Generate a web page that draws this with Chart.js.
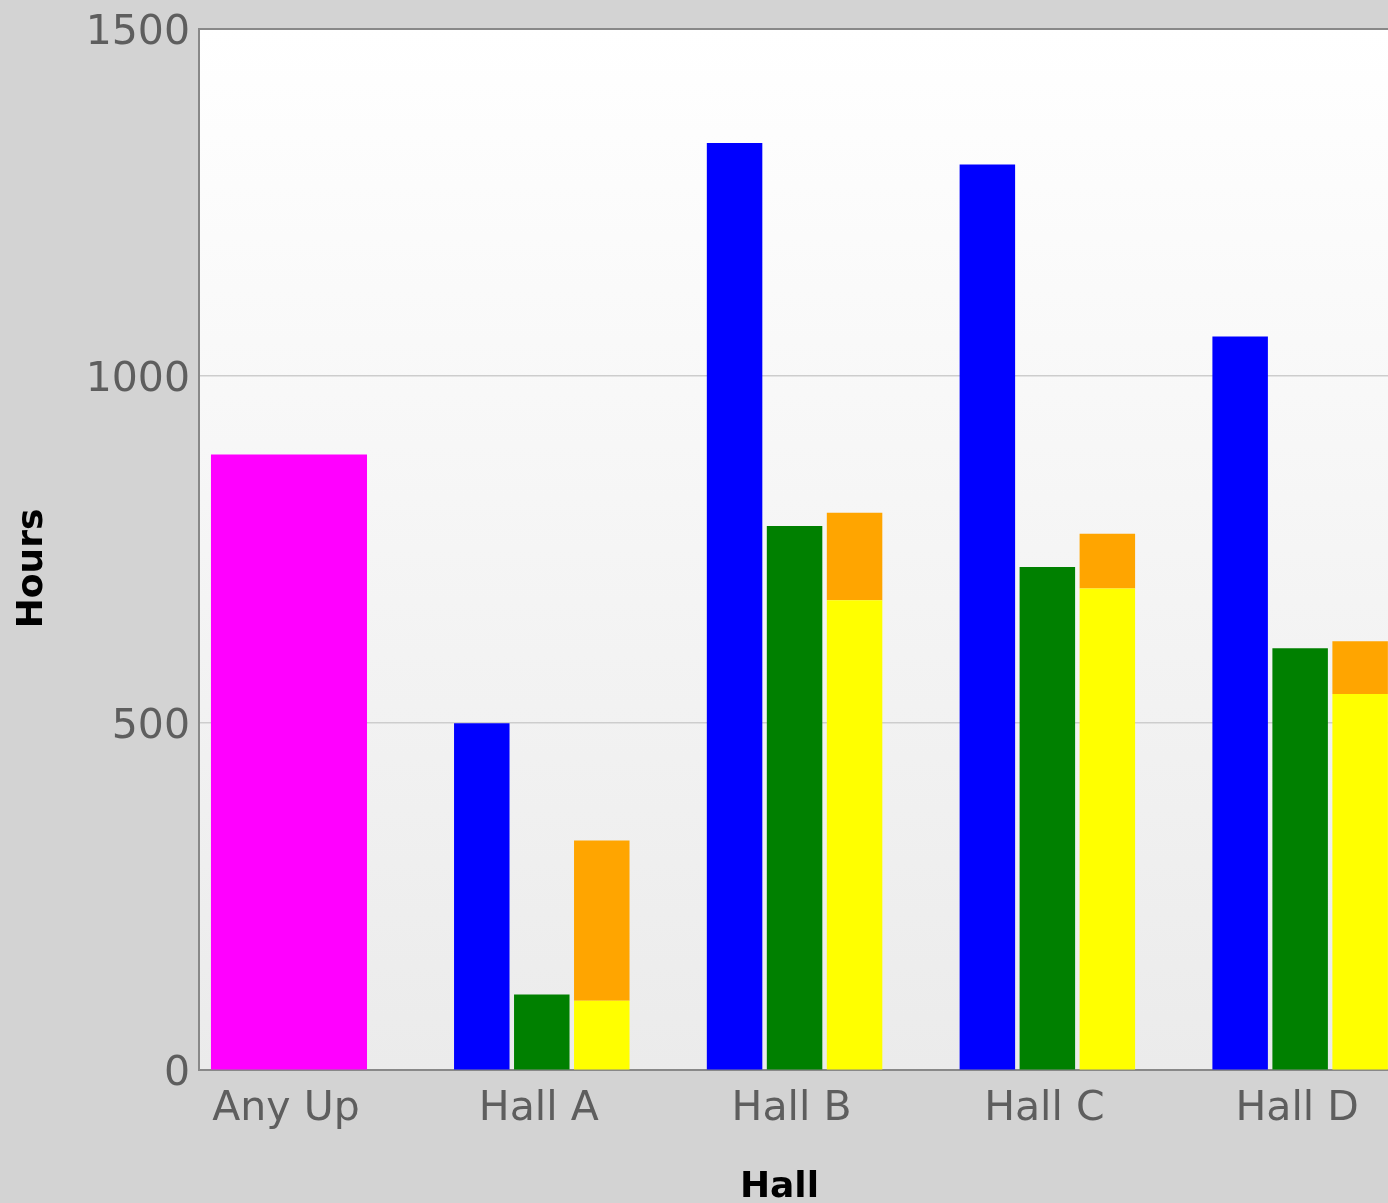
<!DOCTYPE html>
<html>
<head>
<meta charset="utf-8">
<title>Hours by Hall</title>
<script src="https://cdn.jsdelivr.net/npm/chart.js@4.4.1/dist/chart.umd.min.js"></script>
<style>
  html, body { margin: 0; padding: 0; overflow: hidden; background: #d3d3d3; }
  #wrap { width: 1388px; height: 1203px; overflow: hidden; position: relative; }
  canvas { display: block; }
</style>
</head>
<body>
<div id="wrap"><canvas id="chart" width="1559" height="1203"></canvas></div>
<script>
// Categories along the x axis
const categories = ['Any Up', 'Hall A', 'Hall B', 'Hall C', 'Hall D'];

// Hours per series (null where a category has no bar)
const anyUpHours  = [887, null, null, null, null];
const blueHours   = [null, 500, 1336, 1305, 1057];
const greenHours  = [null, 109, 784, 725, 608];
const yellowHours = [null, 100, 677, 694, 542];
const orangeHours = [null, 231, 126, 79, 76];

// Y axis ticks
const yTicks = [0, 500, 1000, 1500];

const FONT = 'DejaVu Sans';

function toPoints(values) {
  return values.map((v, i) => ({ x: i, y: v }));
}

// Soft vertical gradient behind the plot area
const plotBackground = {
  id: 'plotBackground',
  beforeDraw(chart) {
    const { ctx, chartArea: a } = chart;
    const g = ctx.createLinearGradient(0, a.top, 0, a.bottom);
    g.addColorStop(0, '#ffffff');
    g.addColorStop(1, '#ebebeb');
    ctx.save();
    ctx.fillStyle = g;
    ctx.fillRect(a.left, a.top, a.right - a.left, a.bottom - a.top);
    ctx.restore();
  }
};

const barDefaults = {
  categoryPercentage: 0.712,
  barPercentage: 0.925,
  borderWidth: 0,
  skipNull: true
};

new Chart(document.getElementById('chart'), {
  type: 'bar',
  data: {
    datasets: [
      Object.assign({}, barDefaults, { label: 'Any Up', data: toPoints(anyUpHours), backgroundColor: '#ff00ff', stack: 'm', barPercentage: 0.867 }),
      Object.assign({}, barDefaults, { label: 'Series 1', data: toPoints(blueHours), backgroundColor: '#0000ff', stack: 'b' }),
      Object.assign({}, barDefaults, { label: 'Series 2', data: toPoints(greenHours), backgroundColor: '#008000', stack: 'g' }),
      Object.assign({}, barDefaults, { label: 'Series 3', data: toPoints(yellowHours), backgroundColor: '#ffff00', stack: 'yo' }),
      Object.assign({}, barDefaults, { label: 'Series 4', data: toPoints(orangeHours), backgroundColor: '#ffa500', stack: 'yo' })
    ]
  },
  options: {
    responsive: false,
    animation: false,
    devicePixelRatio: 1,
    layout: { padding: { top: 0, left: 0, right: 0, bottom: 0 } },
    plugins: {
      legend: { display: false },
      tooltip: { enabled: false },
      title: {
        display: true,
        text: 'Hall',
        position: 'bottom',
        color: '#000000',
        font: { family: FONT, size: 36, weight: 'bold', lineHeight: 0.85 },
        padding: { top: 23, bottom: 0 }
      }
    },
    scales: {
      x: {
        type: 'linear',
        offset: false,
        min: -0.356,
        max: 5.024,
        afterBuildTicks(scale) {
          scale.ticks = scale.ticks.filter((t) => t.value < categories.length);
        },
        grid: { display: false, drawTicks: false, offset: false },
        border: { display: true, color: '#888888', width: 2 },
        ticks: {
          stepSize: 1,
          includeBounds: false,
          autoSkip: false,
          maxRotation: 0,
          padding: 15,
          labelOffset: -3,
          color: '#5e5e5e',
          font: { family: FONT, size: 41 },
          callback: (v) => (categories[v] !== undefined ? categories[v] : '')
        }
      },
      y: {
        min: yTicks[0],
        max: yTicks[yTicks.length - 1],
        afterFit(scale) { scale.width = 199; },
        grid: {
          drawTicks: false,
          color: (c) => (c.tick && c.tick.value === 1500 ? '#888888' : '#cdcdcd'),
          lineWidth: (c) => (c.tick && c.tick.value === 1500 ? 2 : 1.5)
        },
        border: { display: true, color: '#888888', width: 2 },
        ticks: {
          stepSize: 500,
          padding: 9,
          labelOffset: 4,
          color: '#5e5e5e',
          font: { family: FONT, size: 41, lineHeight: 0.98 },
          callback: (v) => String(v)
        },
        title: {
          display: true,
          text: 'Hours   ',
          color: '#000000',
          font: { family: FONT, size: 36, weight: 'bold' },
          padding: { top: 11, bottom: 0 }
        }
      }
    }
  },
  plugins: [plotBackground]
});
</script>
</body>
</html>
